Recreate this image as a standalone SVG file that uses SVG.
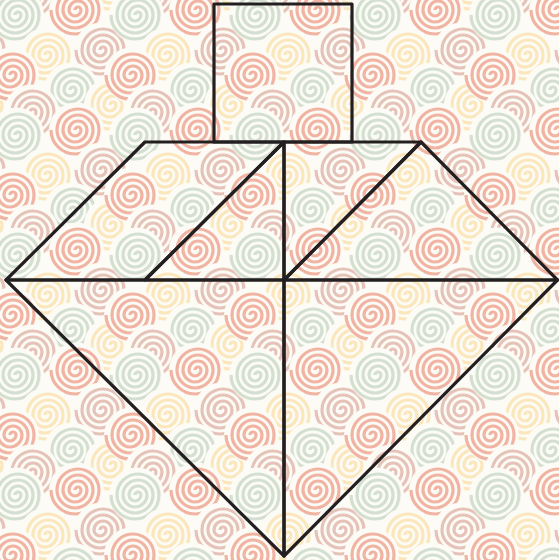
<svg xmlns="http://www.w3.org/2000/svg" xmlns:xlink="http://www.w3.org/1999/xlink" width="559" height="560" viewBox="0 0 559 560">
<style>
.piece{fill:none;stroke:#231f20;stroke-width:3.2;stroke-linejoin:round;stroke-linecap:round}
.sp{fill:none;stroke:currentColor;stroke-width:3.2}
.disc{fill:#fdfbf5}
</style>
<defs>
<g id="sp">
<circle class="disc" cx="1.5" cy="0" r="27.5"/>
<path class="sp" d="M0 0 a3 3 0 0 1 6 0 a6 6 0 0 1 -12 0 a9 9 0 0 1 18 0 a12 12 0 0 1 -24 0 a15 15 0 0 1 30 0 a18 18 0 0 1 -36 0 a21 21 0 0 1 42 0 a24 24 0 0 1 -48 0"/>
</g>
<g id="set">
<use href="#sp" x="15" y="15" style="color:#d3dfd0"/>
<use href="#sp" x="75" y="10" style="color:#f1b4a3"/>
<use href="#sp" x="100" y="50" style="color:#e6c3b8"/>
<use href="#sp" x="45" y="55" style="color:#fbe7bb"/>
<use href="#sp" x="10" y="75" style="color:#f1b4a3"/>
<use href="#sp" x="70" y="90" style="color:#d3dfd0"/>
<use href="#sp" x="110" y="105" style="color:#fbe7bb"/>
<use href="#sp" x="30" y="112" style="color:#e6c3b8"/>
</g>
<pattern id="bg" width="120" height="120" patternUnits="userSpaceOnUse">
<rect width="120" height="120" fill="#fdfbf5"/>
<use href="#set" x="-120" y="-120"/>
<use href="#set" x="0" y="-120"/>
<use href="#set" x="120" y="-120"/>
<use href="#set" x="-120" y="0"/>
<use href="#set" x="0" y="0"/>
<use href="#set" x="120" y="0"/>
<use href="#set" x="-120" y="120"/>
<use href="#set" x="0" y="120"/>
<use href="#set" x="120" y="120"/>
</pattern>
</defs>
<rect width="559" height="560" fill="url(#bg)"/>
<g id="pieces">
<g id="square"><polygon class="piece" points="214,4 352,4 352,142 214,142"/></g>
<g id="parallelogram"><polygon class="piece" points="145,142 284,142 145,280 6,280"/></g>
<g id="small-triangle-1"><polygon class="piece" points="284,142 284,280 145,280"/></g>
<g id="small-triangle-2"><polygon class="piece" points="284,142 421,142 284,280"/></g>
<g id="medium-triangle"><polygon class="piece" points="421,142 557.5,280 284,280"/></g>
<g id="large-triangle-1"><polygon class="piece" points="6,280 284,280 284,556"/></g>
<g id="large-triangle-2"><polygon class="piece" points="284,280 557.5,280 284,556"/></g>
</g>
</svg>
